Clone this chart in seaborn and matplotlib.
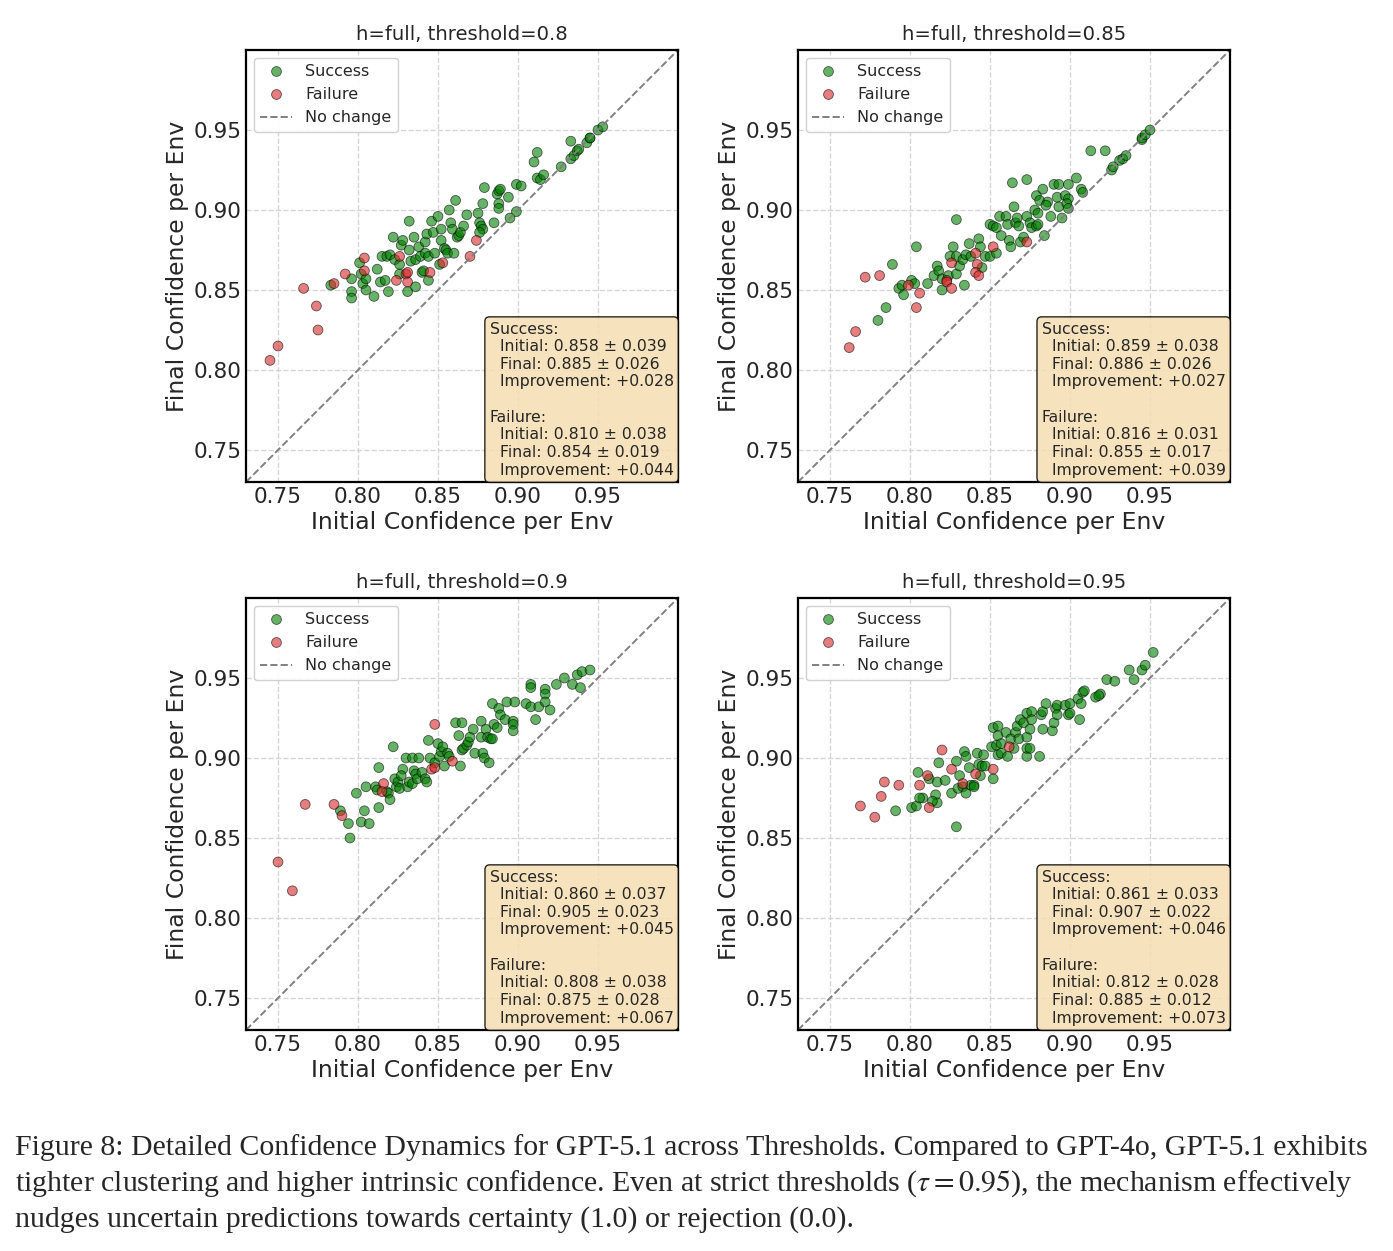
import numpy as np
import pandas as pd
import matplotlib
matplotlib.use('Agg')
import matplotlib.pyplot as plt
import seaborn as sns

thresholds = ['0.8', '0.85', '0.9', '0.95']

# threshold 0.8
s08_init = [0.783, 0.796, 0.796, 0.796, 0.801, 0.802, 0.803, 0.805, 0.805, 0.810, 0.812, 0.814, 0.817, 0.815,
            0.818, 0.820, 0.819, 0.822, 0.823, 0.826, 0.826, 0.827, 0.828, 0.832, 0.832, 0.833, 0.831, 0.835,
            0.836, 0.836, 0.838, 0.839, 0.840, 0.841, 0.842, 0.842, 0.844, 0.843, 0.844, 0.846, 0.847, 0.848,
            0.850, 0.851, 0.852, 0.852, 0.854, 0.855, 0.856, 0.857, 0.858, 0.859, 0.860, 0.861, 0.862, 0.863,
            0.864, 0.866, 0.868, 0.875, 0.876, 0.877, 0.878, 0.879, 0.878, 0.876, 0.885, 0.887, 0.888, 0.889,
            0.888, 0.888, 0.894, 0.895, 0.899, 0.899, 0.902, 0.910, 0.912, 0.912, 0.914, 0.916, 0.927, 0.933,
            0.933, 0.935, 0.937, 0.938, 0.943, 0.945, 0.945, 0.950, 0.953]
s08_final = [0.853, 0.857, 0.849, 0.845, 0.867, 0.860, 0.854, 0.857, 0.850, 0.846, 0.863, 0.855, 0.856, 0.871,
             0.871, 0.872, 0.849, 0.883, 0.869, 0.866, 0.860, 0.878, 0.881, 0.893, 0.875, 0.868, 0.849, 0.883,
             0.869, 0.852, 0.877, 0.871, 0.861, 0.862, 0.880, 0.873, 0.871, 0.885, 0.856, 0.893, 0.886, 0.873,
             0.896, 0.866, 0.888, 0.881, 0.876, 0.875, 0.873, 0.900, 0.892, 0.888, 0.873, 0.906, 0.883, 0.884,
             0.886, 0.890, 0.897, 0.898, 0.892, 0.890, 0.904, 0.914, 0.888, 0.886, 0.892, 0.910, 0.912, 0.913,
             0.904, 0.901, 0.908, 0.895, 0.899, 0.916, 0.915, 0.930, 0.936, 0.920, 0.919, 0.922, 0.927, 0.943,
             0.932, 0.934, 0.937, 0.938, 0.942, 0.945, 0.945, 0.950, 0.952]
f08_init = [0.745, 0.750, 0.766, 0.774, 0.775, 0.785, 0.792, 0.804, 0.804, 0.826, 0.824, 0.830, 0.831, 0.831,
            0.845, 0.853, 0.870, 0.874]
f08_final = [0.806, 0.815, 0.851, 0.840, 0.825, 0.854, 0.860, 0.870, 0.862, 0.871, 0.856, 0.860, 0.861, 0.855,
             0.861, 0.867, 0.871, 0.881]

# threshold 0.85
s085_init = [0.780, 0.785, 0.789, 0.793, 0.795, 0.796, 0.801, 0.803, 0.804, 0.811, 0.815, 0.817, 0.818, 0.820,
             0.820, 0.824, 0.825, 0.827, 0.829, 0.829, 0.829, 0.831, 0.833, 0.834, 0.835, 0.837, 0.838, 0.843,
             0.844, 0.845, 0.847, 0.850, 0.850, 0.852, 0.854, 0.854, 0.856, 0.857, 0.860, 0.861, 0.862, 0.863,
             0.864, 0.865, 0.866, 0.867, 0.868, 0.869, 0.871, 0.873, 0.873, 0.875, 0.876, 0.878, 0.879, 0.879,
             0.883, 0.881, 0.886, 0.885, 0.880, 0.880, 0.884, 0.888, 0.890, 0.893, 0.892, 0.893, 0.895, 0.897,
             0.899, 0.899, 0.898, 0.899, 0.904, 0.907, 0.908, 0.913, 0.922, 0.926, 0.927, 0.931, 0.933, 0.935,
             0.945, 0.945, 0.947, 0.950]
s085_final = [0.831, 0.839, 0.866, 0.851, 0.853, 0.847, 0.856, 0.854, 0.877, 0.854, 0.859, 0.865, 0.862, 0.857,
              0.850, 0.859, 0.871, 0.877, 0.894, 0.871, 0.860, 0.865, 0.869, 0.853, 0.872, 0.879, 0.871, 0.882,
              0.877, 0.864, 0.871, 0.891, 0.871, 0.890, 0.889, 0.873, 0.896, 0.884, 0.896, 0.891, 0.881, 0.877,
              0.917, 0.902, 0.892, 0.895, 0.890, 0.880, 0.883, 0.919, 0.896, 0.892, 0.889, 0.900, 0.909, 0.890,
              0.913, 0.906, 0.905, 0.903, 0.898, 0.891, 0.884, 0.896, 0.916, 0.916, 0.908, 0.902, 0.895, 0.909,
              0.916, 0.907, 0.904, 0.901, 0.920, 0.913, 0.911, 0.937, 0.937, 0.925, 0.927, 0.931, 0.932, 0.934,
              0.944, 0.945, 0.947, 0.950]
f085_init = [0.762, 0.766, 0.772, 0.781, 0.799, 0.804, 0.806, 0.823, 0.823, 0.826, 0.826, 0.841, 0.842, 0.841,
             0.843, 0.852, 0.873]
f085_final = [0.814, 0.824, 0.858, 0.859, 0.853, 0.839, 0.848, 0.856, 0.855, 0.851, 0.867, 0.873, 0.866, 0.861,
              0.859, 0.877, 0.880]

# threshold 0.9
s09_init = [0.789, 0.794, 0.795, 0.799, 0.802, 0.804, 0.807, 0.805, 0.811, 0.812, 0.813, 0.813, 0.818, 0.819,
            0.820, 0.822, 0.823, 0.824, 0.825, 0.826, 0.828, 0.827, 0.830, 0.831, 0.832, 0.834, 0.834, 0.835,
            0.836, 0.837, 0.838, 0.840, 0.842, 0.843, 0.844, 0.845, 0.848, 0.850, 0.851, 0.852, 0.853, 0.854,
            0.856, 0.857, 0.861, 0.863, 0.864, 0.865, 0.865, 0.866, 0.868, 0.869, 0.870, 0.872, 0.873, 0.877,
            0.877, 0.878, 0.880, 0.881, 0.883, 0.884, 0.879, 0.882, 0.885, 0.887, 0.884, 0.888, 0.889, 0.892,
            0.893, 0.898, 0.897, 0.897, 0.897, 0.905, 0.908, 0.908, 0.908, 0.911, 0.913, 0.917, 0.917, 0.917,
            0.920, 0.924, 0.929, 0.934, 0.937, 0.939, 0.940, 0.945]
s09_final = [0.867, 0.859, 0.850, 0.878, 0.860, 0.867, 0.859, 0.882, 0.882, 0.880, 0.894, 0.869, 0.879, 0.878,
             0.874, 0.907, 0.887, 0.882, 0.885, 0.881, 0.893, 0.889, 0.900, 0.882, 0.885, 0.884, 0.900, 0.892,
             0.890, 0.887, 0.900, 0.891, 0.887, 0.885, 0.911, 0.900, 0.897, 0.909, 0.901, 0.904, 0.907, 0.895,
             0.903, 0.901, 0.922, 0.914, 0.895, 0.922, 0.905, 0.906, 0.908, 0.910, 0.913, 0.918, 0.903, 0.923,
             0.913, 0.903, 0.918, 0.913, 0.912, 0.912, 0.900, 0.897, 0.921, 0.919, 0.934, 0.931, 0.927, 0.924,
             0.935, 0.935, 0.923, 0.921, 0.917, 0.934, 0.932, 0.946, 0.944, 0.924, 0.932, 0.943, 0.940, 0.935,
             0.930, 0.946, 0.950, 0.946, 0.952, 0.944, 0.954, 0.955]
f09_init = [0.750, 0.759, 0.767, 0.785, 0.790, 0.816, 0.815, 0.846, 0.848, 0.848, 0.859]
f09_final = [0.835, 0.817, 0.871, 0.871, 0.864, 0.884, 0.879, 0.893, 0.921, 0.894, 0.898]

# threshold 0.95
s095_init = [0.791, 0.801, 0.804, 0.805, 0.808, 0.806, 0.812, 0.816, 0.817, 0.814, 0.818, 0.817, 0.822, 0.826,
             0.829, 0.829, 0.831, 0.830, 0.833, 0.834, 0.835, 0.835, 0.837, 0.838, 0.840, 0.840, 0.842, 0.843,
             0.844, 0.845, 0.846, 0.847, 0.852, 0.851, 0.852, 0.854, 0.855, 0.855, 0.855, 0.857, 0.857, 0.860,
             0.861, 0.863, 0.865, 0.866, 0.867, 0.868, 0.869, 0.871, 0.873, 0.873, 0.873, 0.873, 0.875, 0.875,
             0.876, 0.876, 0.881, 0.882, 0.883, 0.883, 0.885, 0.889, 0.890, 0.891, 0.892, 0.892, 0.897, 0.899,
             0.900, 0.900, 0.906, 0.905, 0.907, 0.908, 0.909, 0.916, 0.919, 0.918, 0.923, 0.928, 0.937, 0.940,
             0.945, 0.947, 0.952]
s095_final = [0.867, 0.869, 0.870, 0.891, 0.875, 0.875, 0.887, 0.877, 0.872, 0.873, 0.897, 0.885, 0.886, 0.878,
              0.857, 0.898, 0.889, 0.881, 0.882, 0.904, 0.901, 0.878, 0.894, 0.883, 0.883, 0.882, 0.903, 0.896,
              0.889, 0.895, 0.902, 0.895, 0.887, 0.907, 0.919, 0.908, 0.914, 0.920, 0.902, 0.909, 0.903, 0.916,
              0.901, 0.912, 0.906, 0.916, 0.920, 0.912, 0.924, 0.922, 0.913, 0.928, 0.901, 0.906, 0.906, 0.918,
              0.929, 0.924, 0.901, 0.927, 0.929, 0.918, 0.934, 0.917, 0.922, 0.931, 0.933, 0.927, 0.933, 0.927,
              0.934, 0.928, 0.924, 0.937, 0.934, 0.941, 0.942, 0.938, 0.940, 0.939, 0.949, 0.948, 0.955, 0.949,
              0.955, 0.958, 0.966]
f095_init = [0.769, 0.778, 0.782, 0.784, 0.793, 0.806, 0.811, 0.812, 0.820, 0.826, 0.833, 0.841, 0.852, 0.862]
f095_final = [0.870, 0.863, 0.876, 0.885, 0.883, 0.883, 0.889, 0.869, 0.905, 0.893, 0.884, 0.890, 0.893, 0.907]

success_init = [s08_init, s085_init, s09_init, s095_init]
success_final = [s08_final, s085_final, s09_final, s095_final]
failure_init = [f08_init, f085_init, f09_init, f095_init]
failure_final = [f08_final, f085_final, f09_final, f095_final]

stats_text = [
    ('0.858 ± 0.039', '0.885 ± 0.026', '+0.028', '0.810 ± 0.038', '0.854 ± 0.019', '+0.044'),
    ('0.859 ± 0.038', '0.886 ± 0.026', '+0.027', '0.816 ± 0.031', '0.855 ± 0.017', '+0.039'),
    ('0.860 ± 0.037', '0.905 ± 0.023', '+0.045', '0.808 ± 0.038', '0.875 ± 0.028', '+0.067'),
    ('0.861 ± 0.033', '0.907 ± 0.022', '+0.046', '0.812 ± 0.028', '0.885 ± 0.012', '+0.073'),
]

caption_lines = [
    'Figure 8: Detailed Confidence Dynamics for GPT-5.1 across Thresholds. Compared to GPT-4o, GPT-5.1 exhibits',
    'tighter clustering and higher intrinsic confidence. Even at strict thresholds ($\\tau = 0.95$), the mechanism effectively',
    'nudges uncertain predictions towards certainty (1.0) or rejection (0.0).',
]

sns.set_style('white')
plt.rcParams['font.family'] = ['DejaVu Sans']
plt.rcParams['mathtext.fontset'] = 'stix'

W, H = 1393, 1251
fig = plt.figure(figsize=(W / 100, H / 100), dpi=100)

lefts = [246, 798, 246, 798]
tops = [50, 50, 598, 598]
size = 432

for i, thr in enumerate(thresholds):
    ax = fig.add_axes([lefts[i] / W, 1 - (tops[i] + size) / H, size / W, size / H])
    df = pd.DataFrame({
        'initial': success_init[i] + failure_init[i],
        'final': success_final[i] + failure_final[i],
        'outcome': ['Success'] * len(success_init[i]) + ['Failure'] * len(failure_init[i]),
    })
    sns.scatterplot(data=df, x='initial', y='final', hue='outcome',
                    palette={'Success': 'green', 'Failure': 'tab:red'},
                    s=50, alpha=0.6, edgecolor='black', linewidth=0.6, ax=ax, legend=True)
    ax.plot([0.73, 1.0], [0.73, 1.0], '--', color='gray', linewidth=1.4, label='No change')
    ax.set_xlim(0.73, 1.0)
    ax.set_ylim(0.73, 1.0)
    ticks = [0.75, 0.80, 0.85, 0.90, 0.95]
    ax.set_xticks(ticks)
    ax.set_yticks(ticks)
    ax.set_xticklabels([f'{t:.2f}' for t in ticks])
    ax.set_yticklabels([f'{t:.2f}' for t in ticks])
    ax.tick_params(direction='in', labelsize=15.5, length=6, width=1.2)
    ax.grid(True, linestyle='--', color='#cccccc', linewidth=1.0, alpha=0.8)
    for sp in ax.spines.values():
        sp.set_linewidth(1.6)
        sp.set_color('black')
    ax.set_xlabel('Initial Confidence per Env', fontsize=16.9, labelpad=3)
    ax.set_ylabel('Final Confidence per Env', fontsize=16.9, labelpad=3)
    ax.set_title(f'h=full, threshold={thr}', fontsize=14.1, pad=7)

    handles, labels = ax.get_legend_handles_labels()
    order = [labels.index('Success'), labels.index('Failure'), labels.index('No change')]
    ax.legend([handles[k] for k in order], [labels[k] for k in order], loc='upper left',
              fontsize=11.5, frameon=True, framealpha=0.9, edgecolor='#cccccc', handletextpad=0.8)

    st = stats_text[i]
    txt = (f'Success:\n  Initial: {st[0]}\n  Final: {st[1]}\n  Improvement: {st[2]}\n\n'
           f'Failure:\n  Initial: {st[3]}\n  Final: {st[4]}\n  Improvement: {st[5]}')
    ax.text(0.99, 0.01, txt, transform=ax.transAxes, ha='right', va='bottom', multialignment='left',
            fontsize=11.3, linespacing=1.22,
            bbox=dict(boxstyle='round,pad=0.3', facecolor='wheat', edgecolor='black', alpha=0.85))

for j, line in enumerate(caption_lines):
    fig.text(15 / W, 1 - (1148 + 36 * j) / H, line, ha='left', va='center',
             fontsize=21.5, family='Liberation Serif')

fig.savefig('out.png', dpi=100)
